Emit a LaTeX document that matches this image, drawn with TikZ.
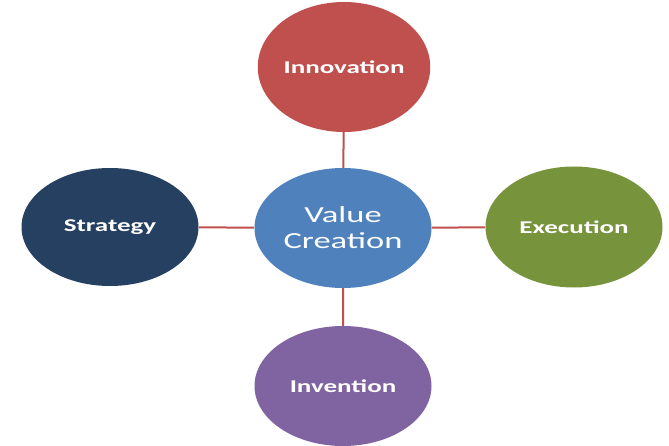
\documentclass[tikz,border=0pt]{standalone}
\usepackage{fontspec}
\setmainfont{Carlito}
\usetikzlibrary{shapes.geometric}

\definecolor{valueblue}{HTML}{4F81BD}
\definecolor{innored}{HTML}{C0504D}
\definecolor{stratnavy}{HTML}{254061}
\definecolor{execgreen}{HTML}{77933C}
\definecolor{inventpurple}{HTML}{8064A2}

\tikzset{
  bubble/.style={ellipse, draw=none, inner sep=0pt, text=white, xscale=1.5,
    minimum width=118pt, minimum height=120pt, align=center,
    font=\fontsize{18}{21}\selectfont\bfseries},
  link/.style={innored, line width=2pt}
}

\begin{document}
\begin{tikzpicture}[x=1pt, y=1pt]
    \useasboundingbox[fill=white] (0,0) rectangle (669,445);

    % Centre
    \node[bubble, fill=valueblue, font=\fontsize{23}{26}\selectfont] (value) at (343,217) {Value\\Creation};

    % Outer bubbles
    \node[bubble, fill=innored, minimum width=115pt, minimum height=130pt] (innovation) at (344,378) {Innovation};
    \node[bubble, fill=stratnavy, minimum height=118pt] (strategy) at (110,218) {Strategy};
    \node[bubble, fill=execgreen, minimum height=121pt] (execution) at (574,218) {Execution};
    \node[bubble, fill=inventpurple] (invention) at (343,59) {Invention};

    % Links
    \draw[link] (value) -- (innovation);
    \draw[link] (value) -- (strategy);
    \draw[link] (value) -- (execution);
    \draw[link] (value) -- (invention);
\end{tikzpicture}
\end{document}
